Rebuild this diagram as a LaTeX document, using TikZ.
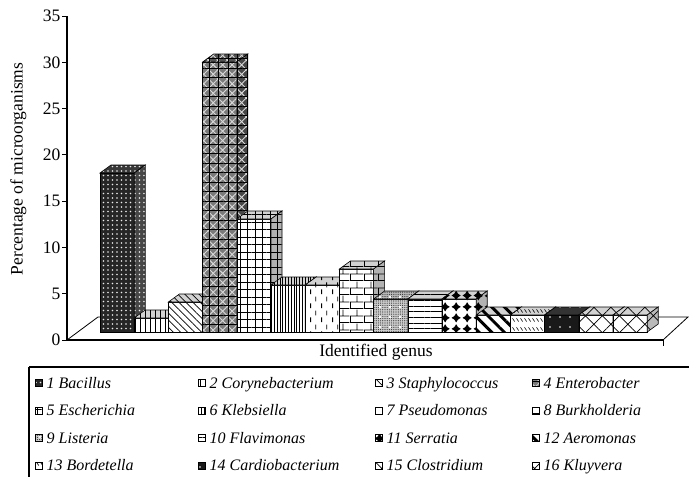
\documentclass[tikz,border=0pt]{standalone}
\usepackage{fontspec}
\setmainfont{Liberation Serif}
\usetikzlibrary{patterns,patterns.meta}

\pgfdeclarepatternformonly{vdashP}{\pgfqpoint{0pt}{0pt}}{\pgfqpoint{11pt}{14pt}}{\pgfqpoint{11pt}{14pt}}{%
  \pgfsetlinewidth{1pt}%
  \pgfpathmoveto{\pgfqpoint{2.75pt}{1pt}}\pgfpathlineto{\pgfqpoint{2.75pt}{6pt}}%
  \pgfpathmoveto{\pgfqpoint{8.25pt}{8pt}}\pgfpathlineto{\pgfqpoint{8.25pt}{13pt}}%
  \pgfusepath{stroke}}
\pgfdeclarepatternformonly{bricksP}{\pgfqpoint{0pt}{0pt}}{\pgfqpoint{14pt}{14pt}}{\pgfqpoint{14pt}{14pt}}{%
  \pgfsetlinewidth{0.8pt}%
  \pgfpathmoveto{\pgfqpoint{0pt}{0.4pt}}\pgfpathlineto{\pgfqpoint{14pt}{0.4pt}}%
  \pgfpathmoveto{\pgfqpoint{0pt}{7.4pt}}\pgfpathlineto{\pgfqpoint{14pt}{7.4pt}}%
  \pgfpathmoveto{\pgfqpoint{0.4pt}{0pt}}\pgfpathlineto{\pgfqpoint{0.4pt}{7.4pt}}%
  \pgfpathmoveto{\pgfqpoint{7.4pt}{7.4pt}}\pgfpathlineto{\pgfqpoint{7.4pt}{14pt}}%
  \pgfusepath{stroke}}
\pgfdeclarepatternformonly{starsP}{\pgfqpoint{0pt}{0pt}}{\pgfqpoint{11pt}{11pt}}{\pgfqpoint{11pt}{11pt}}{%
  \pgfpathmoveto{\pgfqpoint{5.5pt}{0.6pt}}%
  \pgfpathlineto{\pgfqpoint{7.4pt}{3.6pt}}\pgfpathlineto{\pgfqpoint{10.4pt}{5.5pt}}%
  \pgfpathlineto{\pgfqpoint{7.4pt}{7.4pt}}\pgfpathlineto{\pgfqpoint{5.5pt}{10.4pt}}%
  \pgfpathlineto{\pgfqpoint{3.6pt}{7.4pt}}\pgfpathlineto{\pgfqpoint{0.6pt}{5.5pt}}%
  \pgfpathlineto{\pgfqpoint{3.6pt}{3.6pt}}\pgfpathclose
  \pgfusepath{fill}}
\pgfdeclarepatternformonly{sdashP}{\pgfqpoint{0pt}{0pt}}{\pgfqpoint{4pt}{9pt}}{\pgfqpoint{4pt}{9pt}}{%
  \pgfsetlinewidth{0.7pt}%
  \pgfpathmoveto{\pgfqpoint{0.6pt}{6pt}}\pgfpathlineto{\pgfqpoint{3.2pt}{2.6pt}}%
  \pgfusepath{stroke}}

\tikzset{
  barface/.style={draw=black, line width=0.6pt},
  axisline/.style={line width=1.4pt, draw=black},
  thinline/.style={line width=0.8pt, draw=black},
  ticklabel/.style={font=\fontsize{17.5}{20}\selectfont, inner sep=0pt},
  axtitle/.style={font=\fontsize{17.5}{20}\selectfont, inner sep=0pt},
  legtext/.style={font=\fontsize{16}{18}\selectfont\itshape, inner sep=0pt, anchor=base west},
  iconbox/.style={draw=black, line width=0.5pt},
  p1/.style={pattern={Dots[distance=4.5pt,radius=0.8pt]}, pattern color=white!92!black},
  p2/.style={pattern={Lines[angle=90,distance=5pt,line width=0.8pt]}, pattern color=black},
  p3/.style={pattern={Lines[angle=-45,distance=5pt,line width=0.7pt]}, pattern color=black},
  p4/.style={preaction={pattern={Hatch[angle=45,distance=6.7pt,line width=0.9pt]}, pattern color=white!85!black},
             pattern={Hatch[angle=0,distance=9.5pt,line width=1pt]}, pattern color=black},
  p5/.style={pattern={Hatch[angle=0,distance=7.5pt,line width=0.9pt]}, pattern color=black},
  p6/.style={pattern={Lines[angle=90,distance=2.8pt,line width=0.8pt]}, pattern color=black},
  p7/.style={pattern=vdashP, pattern color=black},
  p8/.style={pattern=bricksP, pattern color=black},
  p9/.style={preaction={pattern={Dots[distance=2.2pt,radius=0.6pt]}, pattern color=black!80},
             pattern={Dots[distance=10pt,radius=1.4pt]}, pattern color=white},
  p10/.style={pattern={Lines[angle=0,distance=5.7pt,line width=0.8pt]}, pattern color=black},
  p11/.style={pattern=starsP, pattern color=black},
  p12/.style={pattern={Lines[angle=-45,distance=9pt,line width=3pt]}, pattern color=black},
  p13/.style={pattern=sdashP, pattern color=black},
  p14/.style={pattern={Dots[distance=10pt,radius=0.8pt]}, pattern color=white},
  p15/.style={pattern={Hatch[angle=45,distance=12pt,line width=0.7pt]}, pattern color=black},
  p16/.style={pattern={Hatch[angle=45,distance=12pt,line width=0.7pt]}, pattern color=black},
}

% #1 left x, #2 top y, #3 pattern style, #4 front fill, #5 top fill, #6 side fill
\newcommand{\chartbar}[6]{%
  \path[barface, preaction={fill=#4}, #3] (#1,332) rectangle ({#1+34.2},#2);
  \path[barface, preaction={fill=#5}, #3] (#1,#2) -- ({#1+11},{#2-8}) -- ({#1+45.2},{#2-8}) -- ({#1+34.2},#2) -- cycle;
  \path[barface, preaction={fill=#6}, #3] ({#1+34.2},332) -- ({#1+34.2},#2) -- ({#1+45.2},{#2-8}) -- ({#1+45.2},324) -- cycle;
}
% #1 x, #2 baseline y, #3 pattern, #4 fill, #5 text, #6 name
\newcommand{\legentry}[6]{%
  \path[iconbox, preaction={fill=#4}, #3] (#1,{#2-8.5}) rectangle ({#1+7},{#2-1.5});
  \node[legtext] (#6) at ({#1+11.5},#2) {#5};
}

\begin{document}
\begin{tikzpicture}[x=1pt,y=-1pt]
\useasboundingbox (0,0) rectangle (689,477);

% floor
\coordinate (fl) at (67,340);
\coordinate (fr) at (663,340);
\coordinate (bl) at (98,317);
\coordinate (br) at (688,317);
\draw[thinline] (fl) -- (bl) -- (br) -- (fr);

% bars
\chartbar{100}{173}{p1}{black!85}{black!78}{black!72}
\chartbar{134.2}{318}{p2}{white}{gray!35}{gray!60}
\chartbar{168.4}{302}{p3}{white}{gray!35}{gray!60}
\chartbar{202.6}{62}{p4}{black!52}{black!68}{black!72}
\chartbar{236.8}{219}{p5}{white}{gray!35}{gray!60}
\chartbar{271}{285}{p6}{white}{gray!35}{gray!60}
\chartbar{305.2}{285}{p7}{white}{gray!35}{gray!60}
\chartbar{339.4}{269}{p8}{white}{gray!35}{gray!60}
\chartbar{373.6}{299}{p9}{gray!40}{gray!55}{gray!70}
\chartbar{407.8}{299}{p10}{white}{gray!35}{gray!60}
\chartbar{442}{299}{p11}{white}{gray!35}{gray!60}
\chartbar{476.2}{315}{p12}{white}{gray!35}{gray!60}
\chartbar{510.4}{315}{p13}{white}{gray!35}{gray!60}
\chartbar{544.6}{315}{p14}{black!90}{black!80}{black!85}
\chartbar{578.8}{315}{p15}{white}{gray!35}{gray!55}
\chartbar{613}{315}{p16}{white}{gray!35}{gray!55}

% axes
\coordinate (yo) at (67,340);
\coordinate (ytop) at (67,16);
\coordinate (xend) at (663,340);
\coordinate (xtick) at (663,346);
\draw[axisline] (ytop) -- (yo) -- (xend);
\draw[thinline] (xend) -- (xtick);
\foreach \v in {0,5,...,35} {
  \coordinate (ta\v) at (62,{340-\v*9.257});
  \coordinate (tb\v) at (67,{340-\v*9.257});
  \draw[thinline] (ta\v) -- (tb\v);
  \node[ticklabel, anchor=east] (tk\v) at (60.5,{340-\v*9.257}) {\v};
}
\node[axtitle, rotate=90, anchor=base] (ytitle) at (22.7,169) {Percentage of microorganisms};
\node[axtitle, anchor=base] (xtitle) at (376,356.5) {Identified genus};

% legend frame
\coordinate (lgtl) at (29,367);
\coordinate (lgtr) at (689,367);
\coordinate (lgbl) at (29,477);
\draw[line width=1.4pt] (lgtr) -- (lgtl);
\draw[line width=1.1pt] (lgtl) -- (lgbl);

% legend entries
\legentry{35}{388}{p1}{black!85}{1 Bacillus}{l1}
\legentry{198}{388}{p2}{white}{2 Corynebacterium}{l2}
\legentry{375}{388}{p3}{white}{3 Staphylococcus}{l3}
\legentry{532}{388}{p4}{black!52}{4 Enterobacter}{l4}
\legentry{35}{415.5}{p5}{white}{5 Escherichia}{l5}
\legentry{198}{415.5}{p6}{white}{6 Klebsiella}{l6}
\legentry{375}{415.5}{p7}{white}{7 Pseudomonas}{l7}
\legentry{532}{415.5}{p8}{white}{8 Burkholderia}{l8}
\legentry{35}{443}{p9}{gray!40}{9 Listeria}{l9}
\legentry{198}{443}{p10}{white}{10 Flavimonas}{l10}
\legentry{375}{443}{p11}{white}{11 Serratia}{l11}
\legentry{532}{443}{p12}{white}{12 Aeromonas}{l12}
\legentry{35}{470.5}{p13}{white}{13 Bordetella}{l13}
\legentry{198}{470.5}{p14}{black!90}{14 Cardiobacterium}{l14}
\legentry{375}{470.5}{p15}{white}{15 Clostridium}{l15}
\legentry{532}{470.5}{p16}{white}{16 Kluyvera}{l16}
\end{tikzpicture}
\end{document}
